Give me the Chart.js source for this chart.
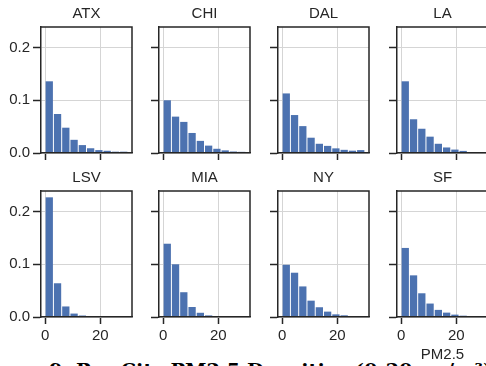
<!DOCTYPE html>
<html>
<head>
<meta charset="utf-8">
<script src="https://cdn.jsdelivr.net/npm/chart.js@4.4.1/dist/chart.umd.min.js"></script>
<style>
    body { margin: 0; background: #fff; width: 486px; height: 366px; overflow: hidden; position: relative; }
    canvas { position: absolute; }
    #titulo {
        position: absolute; left: 49px; top: 361px; margin: 0;
        font: bold 19.4px "DejaVu Serif", serif; line-height: 1; white-space: nowrap; color: #000;
    }
</style>
</head>
<body>
<div id="titulo">9. Per-City PM2.5 Densities (0-30 µg/m³)</div>
<script>
// Datos: histogramas de densidad, bins de ancho 3 entre 0 y 30
const ciudades = ['ATX', 'CHI', 'DAL', 'LA', 'LSV', 'MIA', 'NY', 'SF'];
const centrosBin = [1.5, 4.5, 7.5, 10.5, 13.5, 16.5, 19.5, 22.5, 25.5, 28.5];

const densATX = [0.136, 0.074, 0.048, 0.025, 0.015, 0.009, 0.0055, 0.0042, 0.0025, 0.0025];
const densCHI = [0.100, 0.069, 0.059, 0.038, 0.023, 0.014, 0.008, 0.005, 0.0028, 0.0022];
const densDAL = [0.113, 0.072, 0.051, 0.029, 0.0175, 0.0135, 0.0088, 0.006, 0.0044, 0.0055];
const densLA  = [0.136, 0.064, 0.046, 0.031, 0.0175, 0.0105, 0.0065, 0.004, 0.0015, 0.0008];
const densLSV = [0.227, 0.064, 0.020, 0.0065, 0.0028, 0.0006, 0.0002, 0.0001, 0, 0];
const densMIA = [0.139, 0.100, 0.047, 0.019, 0.008, 0.003, 0.001, 0.0003, 0.0001, 0];
const densNY  = [0.099, 0.084, 0.058, 0.031, 0.0185, 0.0102, 0.005, 0.0032, 0.0013, 0.0006];
const densSF  = [0.131, 0.079, 0.045, 0.0255, 0.0135, 0.0083, 0.0045, 0.0025, 0.0013, 0.0013];

const ticksX = [0, 20];
const ticksY = [0, 0.1, 0.2];
const etiquetaX = 'PM2.5';

const densidades = [densATX, densCHI, densDAL, densLA, densLSV, densMIA, densNY, densSF];

// Posicion de cada panel (area de datos) en la pagina
const izqColumnas = [41, 159, 278, 397];
const topFilas = [27, 191];

Chart.defaults.font.family = '"Liberation Sans", Arial, sans-serif';
Chart.defaults.color = '#262626';

const colorEje = '#262626';
const colorGrid = '#d5d5d5';

// Marco superior y derecho del panel
const marco = {
    id: 'marco',
    afterDraw(chart) {
        const a = chart.chartArea;
        const ctx = chart.ctx;
        ctx.save();
        ctx.strokeStyle = colorEje;
        ctx.lineWidth = 1.5;
        ctx.beginPath();
        ctx.moveTo(a.left, a.top);
        ctx.lineTo(a.right, a.top);
        ctx.lineTo(a.right, a.bottom);
        ctx.stroke();
        ctx.restore();
    }
};

ciudades.forEach((ciudad, i) => {
    const col = i % 4;
    const fila = Math.floor(i / 4);

    const canvas = document.createElement('canvas');
    canvas.width = 141;
    canvas.height = 200;
    canvas.style.left = (izqColumnas[col] - 44) + 'px';
    canvas.style.top = (topFilas[fila] - 27) + 'px';
    document.body.appendChild(canvas);

    const datos = centrosBin.map((x, k) => ({ x: x, y: densidades[i][k] }));

    new Chart(canvas.getContext('2d'), {
        type: 'bar',
        data: {
            datasets: [{
                label: ciudad,
                data: datos,
                backgroundColor: '#4c72b0',
                borderWidth: 0,
                barPercentage: 0.88,
                categoryPercentage: 1
            }]
        },
        options: {
            responsive: false,
            animation: false,
            devicePixelRatio: 1,
            events: [],
            layout: { padding: { left: 0, right: 6, top: 0, bottom: 0 } },
            plugins: {
                legend: { display: false },
                tooltip: { enabled: false },
                title: {
                    display: true,
                    text: ciudad,
                    fullSize: false,
                    color: colorEje,
                    font: { size: 15, weight: 'normal' },
                    padding: { top: 4.5, bottom: 4.5 }
                }
            },
            scales: {
                x: {
                    type: 'linear',
                    min: -1.5,
                    max: 31.5,
                    offset: false,
                    afterBuildTicks: (s) => { s.ticks = ticksX.map(v => ({ value: v })); },
                    afterFit: (s) => { s.height = 47; },
                    grid: { offset: false, color: colorGrid, lineWidth: 1, tickLength: 7, tickColor: colorEje, tickWidth: 1.5 },
                    border: { display: true, color: colorEje, width: 1.5, z: 1 },
                    ticks: { display: fila === 1, font: { size: 15 }, padding: 3, maxRotation: 0, color: colorEje },
                    title: {
                        display: i === 7,
                        text: etiquetaX,
                        font: { size: 15 },
                        color: colorEje,
                        padding: { top: 0, bottom: 0 }
                    }
                },
                y: {
                    min: 0,
                    max: 0.239,
                    afterBuildTicks: (s) => { s.ticks = ticksY.map(v => ({ value: v })); },
                    afterFit: (s) => { s.width = 44; },
                    grid: { color: colorGrid, lineWidth: 1, tickLength: 8, tickColor: colorEje, tickWidth: 1.5 },
                    border: { display: true, color: colorEje, width: 1.5, z: 1 },
                    ticks: {
                        display: col === 0,
                        font: { size: 15 },
                        padding: 3,
                        color: colorEje,
                        callback: (v) => v.toFixed(1)
                    }
                }
            }
        },
        plugins: [marco]
    });
});
</script>
</body>
</html>
